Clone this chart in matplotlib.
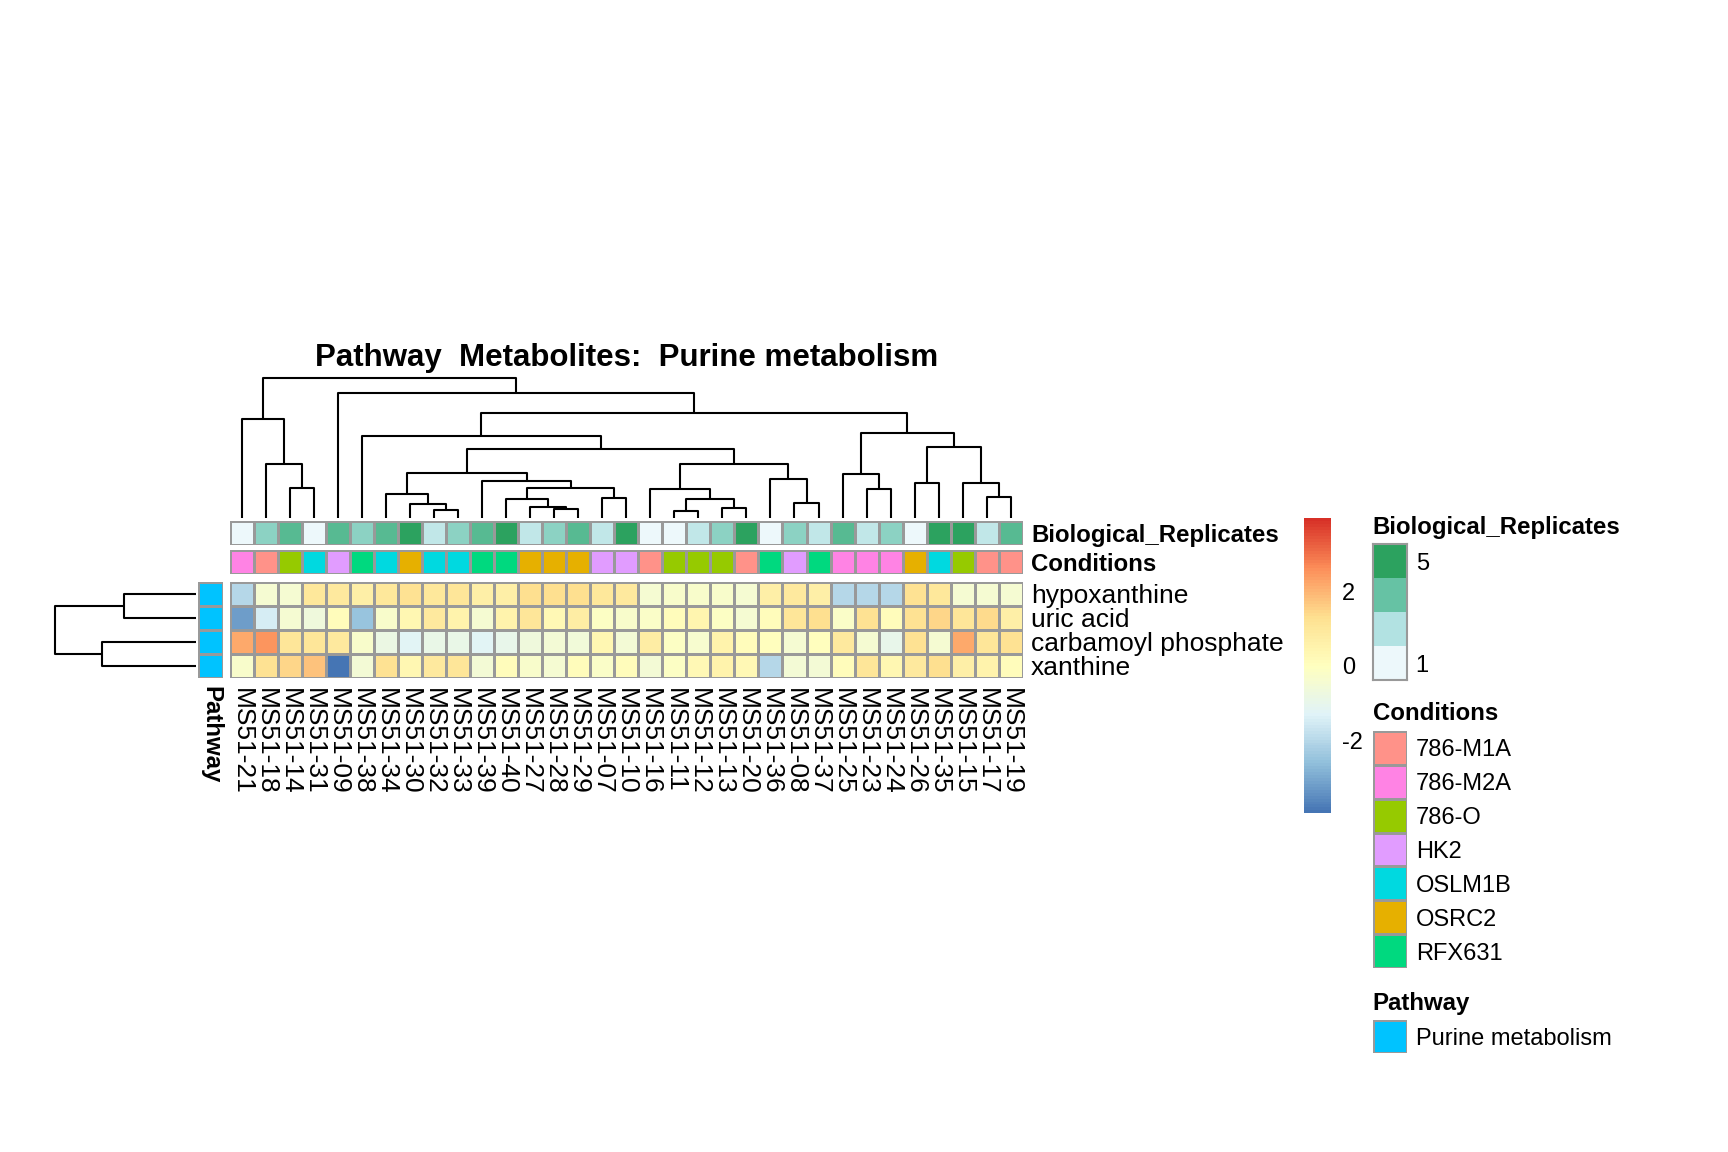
import numpy as np
import matplotlib
matplotlib.use("Agg")
import matplotlib.pyplot as plt
from matplotlib.colors import LinearSegmentedColormap, ListedColormap

plt.rcParams['font.family'] = ['Liberation Sans', 'DejaVu Sans']

# ---------------- data ----------------
samples = ["MS51-21", "MS51-18", "MS51-14", "MS51-31", "MS51-09", "MS51-38", "MS51-34",
           "MS51-30", "MS51-32", "MS51-33", "MS51-39", "MS51-40", "MS51-27", "MS51-28",
           "MS51-29", "MS51-07", "MS51-10", "MS51-16", "MS51-11", "MS51-12", "MS51-13",
           "MS51-20", "MS51-36", "MS51-08", "MS51-37", "MS51-25", "MS51-23", "MS51-24",
           "MS51-26", "MS51-35", "MS51-15", "MS51-17", "MS51-19"]
metabolites = ["hypoxanthine", "uric acid", "carbamoyl phosphate", "xanthine"]

hypoxanthine = [-2.0, -0.4, -0.4, 1.0, 0.9, 0.7, 1.0, 1.2, 1.0, 1.1, 0.7,
                0.7, 1.3, 1.3, 1.3, 1.0, 0.9, -0.4, -0.3, -0.3, -0.3, -0.45,
                0.7, 0.9, 0.7, -2.0, -2.0, -2.0, 1.2, 1.0, -0.4, -0.4, -0.45]
uric_acid = [-3.2, -1.5, -0.45, -0.7, 0.15, -2.5, -0.3, 0.35, 0.9, 0.55, -0.45,
             0.55, 1.1, 0.3, 0.75, -0.1, -0.3, -0.2, 0.15, 0.45, -0.15, -0.4,
             0.15, 1.1, 1.3, -0.2, 1.2, 0.15, 1.2, 1.45, 1.1, 1.35, 0.7]
carbamoyl_phosphate = [2.2, 2.5, 1.1, 1.1, 0.9, -0.3, -0.8, -1.2, -0.9, -0.9, -1.2,
                       -1.0, -0.7, -0.5, -0.6, 0.35, -0.5, 0.75, -0.15, -0.35, 0.5, 0.15,
                       0.05, -0.45, 0.05, 0.9, -0.45, -1.0, 1.2, -0.4, 2.2, 1.1, 1.2]
xanthine = [-0.3, 1.2, 1.5, 1.8, -3.9, -0.55, 1.2, 0.35, 0.9, 1.1, -0.5,
            0.1, -0.3, -0.4, 0.1, -0.2, 0.1, -0.5, -0.1, 0.25, 0.55, 0.3,
            -2.0, -0.5, -0.5, 0.15, 1.1, 0.35, 0.9, 1.3, 0.7, 0.55, 0.15]

replicates = [1, 3, 4, 1, 4, 3, 4, 5, 2, 3, 4, 5, 2, 3, 4, 2, 5,
              1, 1, 2, 3, 5, 1, 3, 2, 4, 2, 3, 1, 5, 5, 2, 4]
conditions = ["786-M2A", "786-M1A", "786-O", "OSLM1B", "HK2", "RFX631", "OSLM1B",
              "OSRC2", "OSLM1B", "OSLM1B", "RFX631", "RFX631", "OSRC2", "OSRC2",
              "OSRC2", "HK2", "HK2", "786-M1A", "786-O", "786-O", "786-O", "786-M1A",
              "RFX631", "HK2", "RFX631", "786-M2A", "786-M2A", "786-M2A", "OSRC2",
              "OSLM1B", "786-O", "786-M1A", "786-M1A"]
condition_levels = ["786-M1A", "786-M2A", "786-O", "HK2", "OSLM1B", "OSRC2", "RFX631"]
condition_colors = ["#FF9289", "#FF83E4", "#96CA00", "#E19CFF", "#00D9E0", "#E6B000", "#00D97F"]
replicate_colors = ["#EDF8FB", "#B2E2E2", "#66C2A4", "#2CA25F"]
replicate_ticks = [5, 1]
pathway_name = "Purine metabolism"
pathway_color = "#00C3FF"
heat_colors = ["#4575B4", "#91BFDB", "#E0F3F8", "#FFFFBF", "#FEE090", "#FC8D59", "#D73027"]
scale_limit = 3.95
scale_ticks = [-2, 0, 2]

# dendrograms: leaves are positions in the ordered list, nodes are [left, right, height]
col_tree = [
    [0, [1, [2, 3, 3.03], 5.37], 9.87],
    [4,
     [[5,
       [[[6, [7, [8, 9, 0.8], 1.4], 2.37],
         [10, [[11, [12, [13, 14, 0.9], 1.13], 1.87], [15, 16, 1.97], 3.03], 3.7], 4.53],
        [[17, [[18, 19, 0.73], [20, 21, 0.97], 1.9], 2.9],
         [22, [23, 24, 1.53], 3.9], 5.37], 6.87], 8.2],
      [[25, [26, 27, 2.9], 4.37],
       [[28, 29, 3.53], [30, [31, 32, 2.13], 3.53], 7.07], 8.53], 10.47],
     12.47],
    13.97]
row_tree = [[0, 1, 7.14], [2, 3, 9.37], 14.0]

# ---------------- layout helpers ----------------
W, H = 1728, 1152
fig = plt.figure(figsize=(W / 100, H / 100), dpi=100)
fig.patch.set_facecolor("white")


def add_ax(x0, y0, x1, y1):
    ax = fig.add_axes([x0 / W, 1 - y1 / H, (x1 - x0) / W, (y1 - y0) / H])
    for s in ax.spines.values():
        s.set_visible(False)
    ax.tick_params(length=0)
    ax.set_xticks([])
    ax.set_yticks([])
    return ax


GRID = "#999999"
LW = 1.0
hx0, hx1 = 230, 1022.7
hy0, hy1 = 581.7, 678

# ---------------- heatmap ----------------
mat = np.array([hypoxanthine, uric_acid, carbamoyl_phosphate, xanthine])
heat_cmap = LinearSegmentedColormap.from_list("rdylbu", heat_colors, N=100)
ax = add_ax(hx0, hy0, hx1, hy1)
ax.pcolormesh(np.arange(len(samples) + 1), np.arange(len(metabolites) + 1), mat,
              cmap=heat_cmap, vmin=-scale_limit, vmax=scale_limit,
              edgecolors=GRID, linewidth=LW)
ax.set_xlim(0, len(samples))
ax.set_ylim(len(metabolites), 0)
ax.set_xticks(np.arange(len(samples)) + 0.5)
ax.set_xticklabels(samples, rotation=270, fontsize=19, va="top", ha="center")
ax.yaxis.tick_right()
ax.set_yticks(np.arange(len(metabolites)) + 0.5)
ax.set_yticklabels(metabolites, fontsize=19)
ax.tick_params(axis="x", pad=7)
ax.tick_params(axis="y", pad=6)

# ---------------- column annotations ----------------
rep_cmap = LinearSegmentedColormap.from_list("bugn", replicate_colors)
axr = add_ax(hx0, 521, hx1, 545)
axr.pcolormesh(np.arange(len(samples) + 1), [0, 1], np.array([replicates]),
               cmap=rep_cmap, vmin=1, vmax=5, edgecolors=GRID, linewidth=LW)
axr.set_xlim(0, len(samples))
axr.set_ylim(1, 0)
axr.yaxis.tick_right()
axr.set_yticks([0.5])
axr.set_yticklabels(["Biological_Replicates"], fontsize=17.3, fontweight="bold")
axr.tick_params(axis="y", pad=6)

cond_cmap = ListedColormap(condition_colors)
cond_idx = np.array([[condition_levels.index(c) for c in conditions]])
axc = add_ax(hx0, 550, hx1, 574)
axc.pcolormesh(np.arange(len(samples) + 1), [0, 1], cond_idx, cmap=cond_cmap,
               vmin=-0.5, vmax=len(condition_levels) - 0.5, edgecolors=GRID, linewidth=LW)
axc.set_xlim(0, len(samples))
axc.set_ylim(1, 0)
axc.yaxis.tick_right()
axc.set_yticks([0.5])
axc.set_yticklabels(["Conditions"], fontsize=17.3, fontweight="bold")
axc.tick_params(axis="y", pad=6)

# ---------------- row annotation ----------------
axp = add_ax(197.7, hy0, 223.3, hy1)
axp.pcolormesh([0, 1], np.arange(len(metabolites) + 1), np.zeros((len(metabolites), 1)),
               cmap=ListedColormap([pathway_color]), vmin=0, vmax=1,
               edgecolors=GRID, linewidth=LW)
axp.set_xlim(0, 1)
axp.set_ylim(len(metabolites), 0)
axp.set_xticks([0.5])
axp.set_xticklabels(["Pathway"], rotation=270, fontsize=17.3, fontweight="bold",
                    va="top", ha="center")
axp.tick_params(axis="x", pad=6)


# ---------------- dendrograms ----------------
def draw_tree(node, ax, vertical):
    if isinstance(node, int):
        return node + 0.5, 0.0
    left, right, h = node
    pl, hl = draw_tree(left, ax, vertical)
    pr, hr = draw_tree(right, ax, vertical)
    pos = [pl, pl, pr, pr]
    hts = [hl, h, h, hr]
    if vertical:
        ax.plot(pos, hts, color="black", lw=1.5, solid_capstyle="butt", clip_on=False)
    else:
        ax.plot(hts, pos, color="black", lw=1.5, solid_capstyle="butt", clip_on=False)
    return (pl + pr) / 2, h


axd = add_ax(hx0, 378, hx1, 518)
draw_tree(col_tree, axd, True)
axd.set_xlim(0, len(samples))
axd.set_ylim(0, col_tree[2])

axrd = add_ax(55, hy0, 195.7, hy1)
draw_tree(row_tree, axrd, False)
axrd.set_ylim(len(metabolites), 0)
axrd.set_xlim(row_tree[2], 0)

# ---------------- title ----------------
fig.text((hx0 + hx1) / 2 / W, 1 - 358 / H, "Pathway  Metabolites:  Purine metabolism",
         ha="center", va="center", fontsize=22.5, fontweight="bold")

# ---------------- color scale legend ----------------
axs = add_ax(1304, 518.3, 1330.7, 813.3)
levels = np.linspace(-scale_limit, scale_limit, 101)
axs.pcolormesh([0, 1], levels, ((levels[:-1] + levels[1:]) / 2)[:, None],
               cmap=heat_cmap, vmin=-scale_limit, vmax=scale_limit)
axs.set_xlim(0, 1)
axs.set_ylim(-scale_limit, scale_limit)
axs.yaxis.tick_right()
axs.set_yticks(scale_ticks)
axs.set_yticklabels([str(t) for t in scale_ticks], fontsize=17)
axs.tick_params(axis="y", pad=8)

# ---------------- annotation legends ----------------
lx0, lx1 = 1372.7, 1407.3


def legend_box(y0, y1, colors, labels, label_pos, title, edges):
    a = add_ax(lx0, y0, lx1, y1)
    n = len(colors)
    a.pcolormesh([0, 1], np.arange(n + 1), np.arange(n)[:, None],
                 cmap=ListedColormap(colors), vmin=-0.5, vmax=n - 0.5,
                 edgecolors=GRID if edges else "face", linewidth=LW if edges else 0)
    a.set_xlim(0, 1)
    a.set_ylim(n, 0)
    if not edges:
        for s in a.spines.values():
            s.set_visible(True)
            s.set_color(GRID)
            s.set_linewidth(1.5)
    a.yaxis.tick_right()
    a.set_yticks(label_pos)
    a.set_yticklabels(labels, fontsize=17)
    a.tick_params(axis="y", pad=6)
    a.set_title(title, loc="left", fontsize=17.3, fontweight="bold", pad=7.5)
    return a


legend_box(544, 680, replicate_colors[::-1], [str(t) for t in replicate_ticks],
           [0.5, len(replicate_colors) - 0.5], "Biological_Replicates", False)
legend_box(730.7, 968.3, condition_colors, condition_levels,
           np.arange(len(condition_levels)) + 0.5, "Conditions", True)
legend_box(1020, 1053.3, [pathway_color], [pathway_name], [0.5], "Pathway", True)

fig.savefig("out.png", dpi=100, facecolor="white")
